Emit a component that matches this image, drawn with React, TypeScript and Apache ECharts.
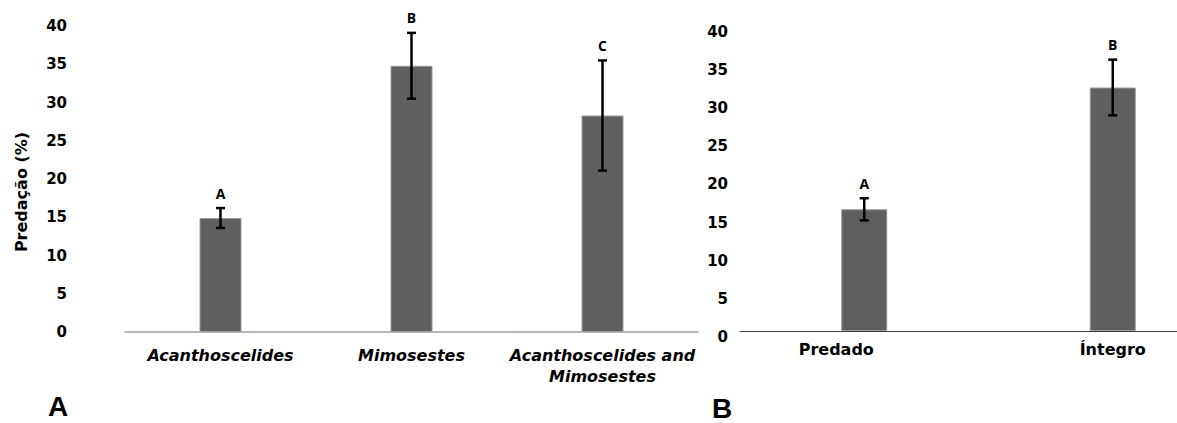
import React, { useEffect, useRef } from "react";
import * as echarts from "echarts";

const catsA = ["Acanthoscelides", "Mimosestes", "Acanthoscelides and\nMimosestes"];
const valsA = [14.9, 34.8, 28.3];
const errA = [1.3, 4.3, 7.2];
const lettersA = ["A", "B", "C"];

const catsB = ["Predado", "Íntegro"];
const valsB = [15.95, 31.9];
const errB = [1.45, 3.65];
const lettersB = ["A", "B"];

const yTicks = { min: 0, max: 40, interval: 5 };

const BAR = "#5f5f5f";
const FONT = "DejaVu Sans";

function errData(vals: number[], errs: number[]) {
  return vals.map((v, i) => [i, v - errs[i], v + errs[i]]);
}

function errSeries(vals: number[], errs: number[], letters: string[], axisIndex: number) {
  return {
    type: "custom",
    xAxisIndex: axisIndex,
    yAxisIndex: axisIndex,
    encode: { x: 0, y: [1, 2] },
    data: errData(vals, errs),
    z: 10,
    renderItem: (params: any, api: any) => {
      const i = api.value(0);
      const lo = api.coord([i, api.value(1)]);
      const hi = api.coord([i, api.value(2)]);
      const cap = 4.5;
      const st = { stroke: "#000", lineWidth: 2.5 };
      return {
        type: "group",
        children: [
          { type: "line", shape: { x1: lo[0], y1: lo[1], x2: hi[0], y2: hi[1] }, style: st },
          { type: "line", shape: { x1: lo[0] - cap, y1: lo[1], x2: lo[0] + cap, y2: lo[1] }, style: st },
          { type: "line", shape: { x1: hi[0] - cap, y1: hi[1], x2: hi[0] + cap, y2: hi[1] }, style: st },
          {
            type: "text",
            x: hi[0],
            y: hi[1] - 15,
            style: {
              text: letters[params.dataIndex],
              fontFamily: "Open Sans",
              fontWeight: "bold",
              fontSize: 14,
              fill: "#000",
              align: "center",
              verticalAlign: "middle",
            },
          },
        ],
      };
    },
  };
}

export default function App() {
  const ref = useRef<HTMLDivElement>(null);
  useEffect(() => {
    if (!ref.current) return;
    const chart = echarts.init(ref.current, null, { renderer: "svg" });
    const yLabel = { fontFamily: FONT, fontWeight: "bold", fontSize: 15, color: "#000" };
    chart.setOption({
      animation: false,
      backgroundColor: "#fff",
      grid: [
        { left: 125, width: 573, top: 26, height: 306, outerBoundsMode: "none" },
        { left: 740, width: 497, top: 25.7, height: 305.3, outerBoundsMode: "none" },
      ],
      xAxis: [
        {
          type: "category",
          gridIndex: 0,
          data: catsA,
          axisLine: { lineStyle: { color: "#a0a0a0", width: 1.5 } },
          axisTick: { show: false },
          axisLabel: {
            interval: 0,
            margin: 12.5,
            fontFamily: FONT,
            fontWeight: "bold",
            fontStyle: "italic",
            fontSize: 16,
            lineHeight: 21,
            color: "#000",
          },
        },
        {
          type: "category",
          gridIndex: 1,
          data: catsB.map((c, i) =>
            i === 0 ? { value: c, textStyle: { padding: [0, 56, 0, 0] } } : c
          ),
          axisLine: { lineStyle: { color: "#404040", width: 1 } },
          axisTick: { show: false },
          axisLabel: {
            interval: 0,
            margin: 10,
            fontFamily: FONT,
            fontWeight: "bold",
            fontSize: 16,
            color: "#000",
          },
        },
      ],
      yAxis: [
        {
          type: "value",
          gridIndex: 0,
          ...yTicks,
          axisLine: { show: false },
          axisTick: { show: false },
          splitLine: { show: false },
          axisLabel: { ...yLabel, margin: 58 },
        },
        {
          type: "value",
          gridIndex: 1,
          ...yTicks,
          axisLine: { show: false },
          axisTick: { show: false },
          splitLine: { show: false },
          axisLabel: { ...yLabel, margin: 12, verticalAlign: "top", lineHeight: 12 },
        },
      ],
      graphic: [
        {
          type: "text",
          x: 21,
          y: 192,
          rotation: Math.PI / 2,
          style: {
            text: "Predação (%)",
            fontFamily: FONT,
            fontWeight: "bold",
            fontSize: 16,
            fill: "#000",
            align: "center",
            verticalAlign: "middle",
          },
        },
        {
          type: "text",
          x: 58,
          y: 406,
          style: {
            text: "A",
            fontFamily: "Liberation Sans",
            fontWeight: "bold",
            fontSize: 28,
            lineHeight: 28,
            fill: "#000",
            align: "center",
            verticalAlign: "middle",
          },
        },
        {
          type: "text",
          x: 722,
          y: 408,
          style: {
            text: "B",
            fontFamily: "Liberation Sans",
            fontWeight: "bold",
            fontSize: 28,
            lineHeight: 28,
            fill: "#000",
            align: "center",
            verticalAlign: "middle",
          },
        },
      ],
      series: [
        {
          type: "bar",
          xAxisIndex: 0,
          yAxisIndex: 0,
          data: valsA,
          barWidth: 42,
          itemStyle: { color: BAR, borderColor: "#9a9a9a", borderWidth: 1 },
        },
        {
          type: "bar",
          xAxisIndex: 1,
          yAxisIndex: 1,
          data: valsB,
          barWidth: 46,
          itemStyle: { color: BAR, borderColor: "#9a9a9a", borderWidth: 1 },
        },
        errSeries(valsA, errA, lettersA, 0),
        errSeries(valsB, errB, lettersB, 1),
      ],
    });
    return () => chart.dispose();
  }, []);
  return (
    <div
      ref={ref}
      style={{ position: "fixed", left: 0, top: 0, width: 1177, height: 423 }}
    />
  );
}
